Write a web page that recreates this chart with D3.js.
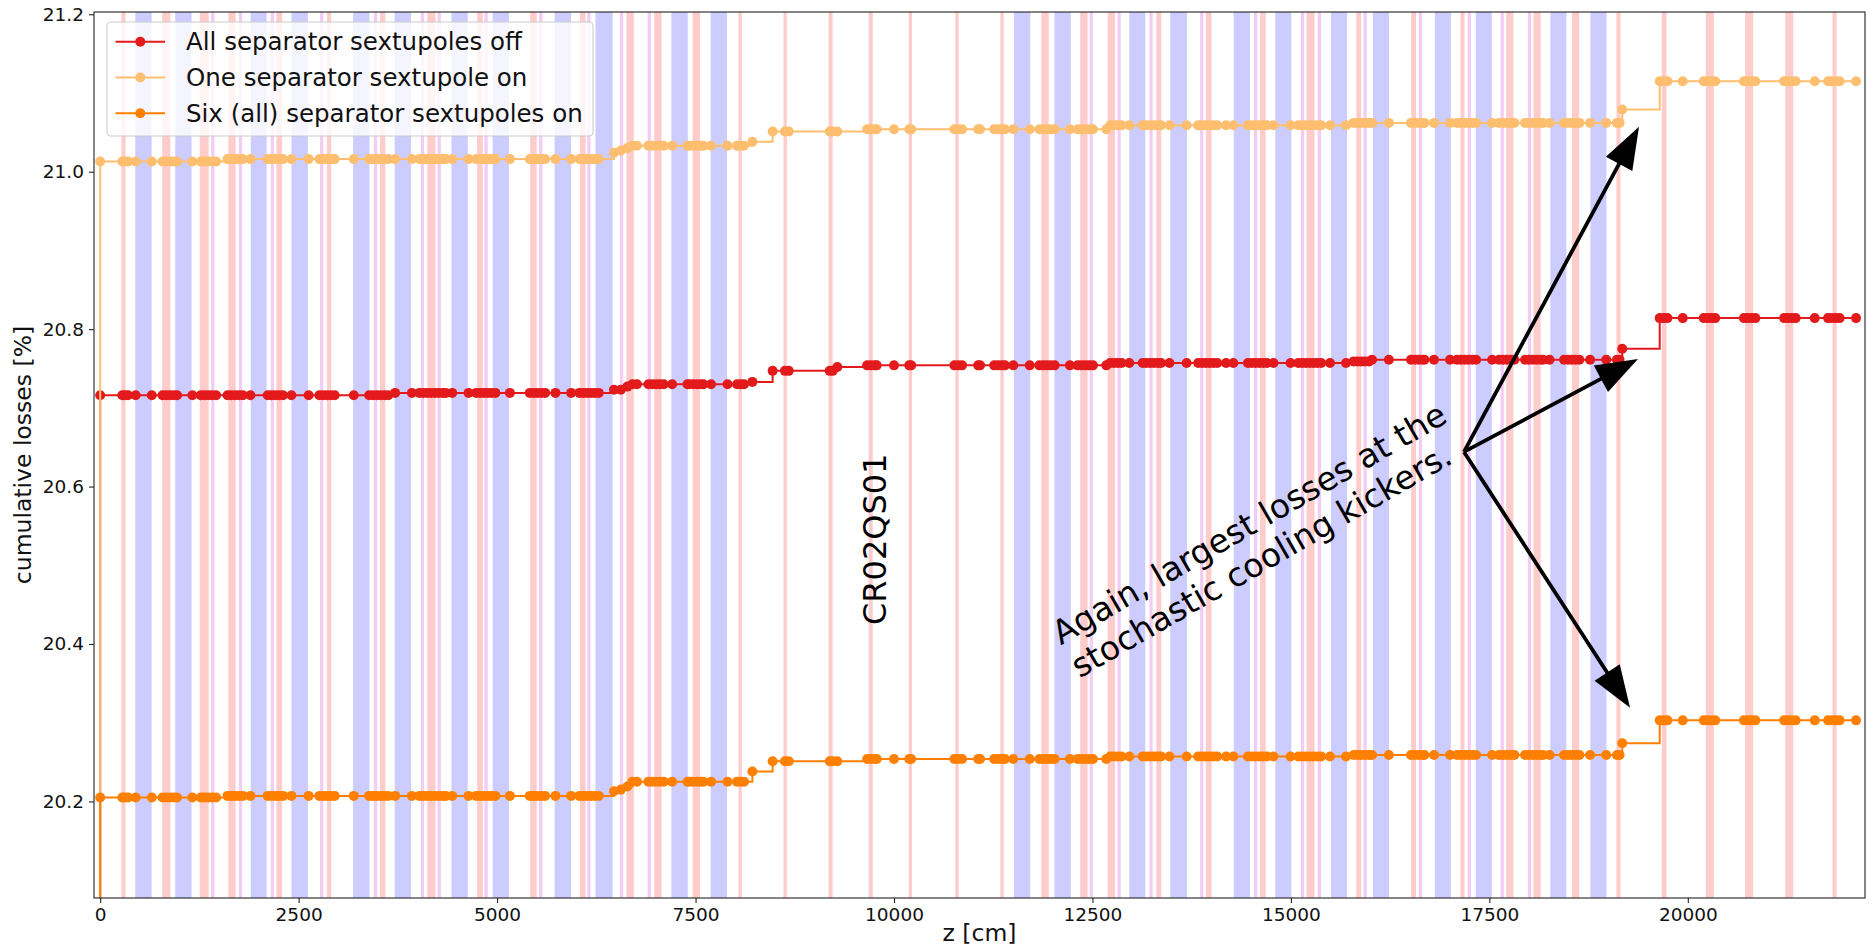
<!DOCTYPE html>
<html>
<head>
<meta charset="utf-8">
<script src="https://cdn.jsdelivr.net/npm/d3@7"></script>
<style>
  html, body { margin: 0; padding: 0; background: #ffffff; }
  svg { display: block; font-family: "DejaVu Sans", sans-serif; }
</style>
</head>
<body>
<svg id="chart" width="1870" height="947"></svg>
<script>
// Longitudinal positions (cm) of the loss samples; the first entry is the origin of the cumulative sum.
const zPos = [
  0,
  0, 279, 312, 351, 447, 650, 785, 833, 881, 929,
  968, 1161, 1267, 1315, 1363, 1411, 1460, 1604, 1652, 1701,
  1749, 1797, 1893, 2110, 2159, 2207, 2255, 2303, 2409, 2626,
  2761, 2809, 2857, 2906, 2954, 3195, 3388, 3436, 3484, 3532,
  3580, 3629,
  3715, 3927, 4024, 4072, 4120, 4168, 4217, 4265, 4313, 4352,
  4434, 4641, 4737, 4785, 4834, 4882, 4930, 4978, 5161, 5412,
  5460, 5508, 5557, 5605, 5735, 5933, 6039, 6087, 6135, 6183,
  6231, 6280,
  6472, 6559,
  6641,
  6704, 6762, 6906, 6954, 7003, 7051, 7099, 7205, 7398, 7421,
  7469, 7517, 7565, 7599, 7695, 7903, 8023, 8071, 8110,
  8216,
  8471, 8626, 8674, 9190, 9228,
  9286,
  9662, 9710, 9758, 9782, 10000, 10192, 10216, 10761, 10809, 10857,
  11060, 11084, 11262, 11310, 11358, 11397, 11503, 11710, 11831, 11879,
  11927, 11975, 12024, 12216, 12313, 12361, 12409, 12458, 12506, 12674,
  12723, 12771, 12819, 12867, 12964, 13132, 13180, 13229, 13277, 13325,
  13364, 13470, 13687, 13831, 13879, 13927, 13976, 14024, 14072, 14183,
  14275, 14458, 14506, 14554, 14603, 14651, 14699, 14781, 14995, 15092,
  15140, 15188, 15236, 15284, 15332, 15381, 15492, 15694,
  15790, 15839, 15887, 15935, 15984,
  16022, 16234, 16513, 16562, 16610, 16658, 16682, 16803, 17005, 17092,
  17140, 17188, 17236, 17285, 17333, 17535, 17622, 17670, 17718, 17767,
  17815, 17950, 17998, 18046, 18094, 18143, 18176, 18258, 18441, 18490,
  18538, 18586, 18634, 18769, 18972, 19107, 19140,
  19174,
  19646, 19695, 19743, 19936, 20201, 20249, 20297, 20345, 20707, 20755,
  20803, 20851, 21213, 21261, 21309, 21358, 21599, 21767, 21815, 21864,
  21912, 22119
];

// Cumulative losses [%] with all separator sextupoles off
const lossAllOff = [
  0,
  20.716,20.716,20.716,20.716,20.716,20.716,20.716,20.716,20.716,20.716,
  20.716,20.716,20.716,20.716,20.716,20.716,20.716,20.716,20.716,20.716,
  20.716,20.716,20.716,20.716,20.716,20.716,20.716,20.716,20.716,20.716,
  20.716,20.716,20.716,20.716,20.716,20.716,20.716,20.716,20.716,20.716,
  20.716,20.716,
  20.719,20.719,20.719,20.719,20.719,20.719,20.719,20.719,20.719,20.719,
  20.719,20.719,20.719,20.719,20.719,20.719,20.719,20.719,20.719,20.719,
  20.719,20.719,20.719,20.719,20.719,20.719,20.719,20.719,20.719,20.719,
  20.719,20.719,
  20.723,20.723,
  20.727,
  20.730,20.730,20.730,20.730,20.730,20.730,20.730,20.730,20.730,20.730,
  20.730,20.730,20.730,20.730,20.730,20.730,20.730,20.730,20.730,
  20.733,
  20.747,20.747,20.747,20.747,20.747,
  20.752,
  20.754,20.754,20.754,20.754,20.754,20.754,20.754,20.754,20.754,20.754,
  20.754,20.754,20.754,20.754,20.754,20.754,20.754,20.754,20.754,20.754,
  20.754,20.754,20.754,20.754,20.754,20.754,20.754,20.754,20.754,20.754,
  20.757,20.757,20.757,20.757,20.757,20.757,20.757,20.757,20.757,20.757,
  20.757,20.757,20.757,20.757,20.757,20.757,20.757,20.757,20.757,20.757,
  20.757,20.757,20.757,20.757,20.757,20.757,20.757,20.757,20.757,20.757,
  20.757,20.757,20.757,20.757,20.757,20.757,20.757,20.757,
  20.759,20.759,20.759,20.759,20.759,
  20.761,20.761,20.761,20.761,20.761,20.761,20.761,20.761,20.761,20.761,
  20.761,20.761,20.761,20.761,20.761,20.761,20.761,20.761,20.761,20.761,
  20.761,20.761,20.761,20.761,20.761,20.761,20.761,20.761,20.761,20.761,
  20.761,20.761,20.761,20.761,20.761,20.761,20.761,
  20.775,
  20.814,20.814,20.814,20.814,20.814,20.814,20.814,20.814,20.814,20.814,
  20.814,20.814,20.814,20.814,20.814,20.814,20.814,20.814,20.814,20.814,
  20.814,20.814
];

// Cumulative losses [%] with one separator sextupole on
const lossOneOn = [
  0,
  21.013,21.013,21.013,21.013,21.013,21.013,21.013,21.013,21.013,21.013,
  21.013,21.013,21.013,21.013,21.013,21.013,21.013,
  21.016,21.016,21.016,21.016,21.016,21.016,21.016,21.016,21.016,21.016,
  21.016,21.016,21.016,21.016,21.016,21.016,21.016,21.016,21.016,21.016,
  21.016,21.016,21.016,21.016,21.016,21.016,21.016,21.016,21.016,21.016,
  21.016,21.016,21.016,21.016,21.016,21.016,21.016,21.016,21.016,21.016,
  21.016,21.016,21.016,21.016,21.016,21.016,21.016,21.016,21.016,21.016,
  21.016,21.016,21.016,21.016,21.016,21.016,21.016,
  21.024,21.027,21.030,
  21.033,21.033,21.033,21.033,21.033,21.033,21.033,21.033,21.033,21.033,
  21.033,21.033,21.033,21.033,21.033,21.033,21.033,21.033,21.033,
  21.038,
  21.051,21.051,21.051,21.051,21.051,21.051,
  21.054,21.054,21.054,21.054,21.054,21.054,21.054,21.054,21.054,21.054,
  21.054,21.054,21.054,21.054,21.054,21.054,21.054,21.054,21.054,21.054,
  21.054,21.054,21.054,21.054,21.054,21.054,21.054,21.054,21.054,21.054,
  21.059,21.059,21.059,21.059,21.059,21.059,21.059,21.059,21.059,21.059,
  21.059,21.059,21.059,21.059,21.059,21.059,21.059,21.059,21.059,21.059,
  21.059,21.059,21.059,21.059,21.059,21.059,21.059,21.059,21.059,21.059,
  21.059,21.059,21.059,21.059,21.059,21.059,21.059,21.059,
  21.062,21.062,21.062,21.062,21.062,21.062,21.062,21.062,21.062,21.062,
  21.062,21.062,21.062,21.062,21.062,21.062,21.062,21.062,21.062,21.062,
  21.062,21.062,21.062,21.062,21.062,21.062,21.062,21.062,21.062,21.062,
  21.062,21.062,21.062,21.062,21.062,21.062,21.062,21.062,21.062,21.062,
  21.062,21.062,
  21.079,
  21.115,21.115,21.115,21.115,21.115,21.115,21.115,21.115,21.115,21.115,
  21.115,21.115,21.115,21.115,21.115,21.115,21.115,21.115,21.115,21.115,
  21.115,21.115
];

// Cumulative losses [%] with all six separator sextupoles on
const lossSixOn = [
  0,
  20.205,20.205,20.205,20.205,20.205,20.205,20.205,20.205,20.205,20.205,
  20.205,20.205,20.205,20.205,20.205,20.205,20.205,
  20.207,20.207,20.207,20.207,20.207,20.207,20.207,20.207,20.207,20.207,
  20.207,20.207,20.207,20.207,20.207,20.207,20.207,20.207,20.207,20.207,
  20.207,20.207,20.207,20.207,20.207,20.207,20.207,20.207,20.207,20.207,
  20.207,20.207,20.207,20.207,20.207,20.207,20.207,20.207,20.207,20.207,
  20.207,20.207,20.207,20.207,20.207,20.207,20.207,20.207,20.207,20.207,
  20.207,20.207,20.207,20.207,20.207,20.207,20.207,
  20.213,20.215,20.219,
  20.225,20.225,20.225,20.225,20.225,20.225,20.225,20.225,20.225,20.225,
  20.225,20.225,20.225,20.225,20.225,20.225,20.225,20.225,20.225,
  20.238,
  20.251,20.251,20.251,20.251,20.251,20.251,
  20.254,20.254,20.254,20.254,20.254,20.254,20.254,20.254,20.254,20.254,
  20.254,20.254,20.254,20.254,20.254,20.254,20.254,20.254,20.254,20.254,
  20.254,20.254,20.254,20.254,20.254,20.254,20.254,20.254,20.254,20.254,
  20.257,20.257,20.257,20.257,20.257,20.257,20.257,20.257,20.257,20.257,
  20.257,20.257,20.257,20.257,20.257,20.257,20.257,20.257,20.257,20.257,
  20.257,20.257,20.257,20.257,20.257,20.257,20.257,20.257,20.257,20.257,
  20.257,20.257,20.257,20.257,20.257,20.257,20.257,20.257,
  20.259,20.259,20.259,20.259,20.259,20.259,20.259,20.259,20.259,20.259,
  20.259,20.259,20.259,20.259,20.259,20.259,20.259,20.259,20.259,20.259,
  20.259,20.259,20.259,20.259,20.259,20.259,20.259,20.259,20.259,20.259,
  20.259,20.259,20.259,20.259,20.259,20.259,20.259,20.259,20.259,20.259,
  20.259,20.259,
  20.274,
  20.303,20.303,20.303,20.303,20.303,20.303,20.303,20.303,20.303,20.303,
  20.303,20.303,20.303,20.303,20.303,20.303,20.303,20.303,20.303,20.303,
  20.303,20.303
];

// Element extents [start, end] in cm: dipoles, quadrupoles, sextupoles
const dipoleSpans = [
  [442,648],[946,1151],[1896,2097],[2410,2616],[3186,3392],[3710,3916],
  [4425,4630],[4944,5149],[5725,5930],[6239,6455],[7196,7402],[7691,7897],
  [11511,11717],[12021,12227],[12964,13165],[13480,13691],[14279,14485],
  [14803,15005],[15505,15707],[16035,16237],[16813,17015],[17328,17530],
  [18268,18470],[18773,18975]
];
const quadSpans = [
  [267,319],[781,884],[1254,1367],[1614,1706],[2220,2292],[2857,2909],
  [3525,3592],[4121,4224],[4748,4820],[5417,5499],[6043,6115],[6629,6722],
  [6979,7072],[7464,7557],[8041,8083],[8608,8650],[9175,9227],[9681,9732],
  [10186,10227],[10773,10815],[11340,11382],[11856,11949],[12346,12439],
  [12691,12784],[13305,13366],[13928,14000],[14611,14682],[15197,15298],
  [15823,15884],[16515,16576],[17136,17187],[17712,17803],[18056,18146],
  [18540,18631],[19101,19152],[19672,19732],[20227,20328],[20722,20823],
  [21227,21328],[21823,21874]
];
const sextSpans = [
  [1398,1439],[1747,1788],[2148,2189],[2770,2811],[3448,3489],[4039,4080],
  [4250,4291],[4841,4882],[5530,5571],[6136,6177],[6547,6588],[6897,6938],
  [12464,12505],[12815,12856],[13217,13258],[13856,13897],[14535,14576],
  [15126,15167],[15338,15379],[15914,15955],[16611,16652],[17227,17268],
  [17641,17682],[17985,18025]
];

const xTicks = [0, 2500, 5000, 7500, 10000, 12500, 15000, 17500, 20000];
const yTicks = [20.2, 20.4, 20.6, 20.8, 21.0, 21.2];
const seriesNames = [
  "All separator sextupoles off",
  "One separator sextupole on",
  "Six (all) separator sextupoles on"
];
const zRange = [-78, 22232];
const lossRange = [20.0773, 21.2029];

// Annotation anchors in data units [z, loss]
const noteLines = ["Again, largest losses at the", "stochastic cooling kickers."];
const noteAt = [12100, 20.398];
const arrowTail = [17180, 20.644];
const arrowTips = [[19385, 21.057], [19372, 20.762], [19272, 20.319]];
const elementLabel = "CR02QS01";
const elementLabelAt = [9895, 20.533];

// ---------------------------------------------------------------
const svg = d3.select("#chart");
const plot = { left: 94, top: 12, right: 1865, bottom: 898 };
const x = d3.scaleLinear().domain(zRange).range([plot.left, plot.right]);
const y = d3.scaleLinear().domain(lossRange).range([plot.bottom, plot.top]);

svg.append("defs").append("clipPath").attr("id", "plotClip")
  .append("rect")
  .attr("x", plot.left).attr("y", plot.top)
  .attr("width", plot.right - plot.left).attr("height", plot.bottom - plot.top);

// Element bands
const bands = svg.append("g").attr("clip-path", "url(#plotClip)");
[[dipoleSpans, "#ccccff"], [quadSpans, "#ffcccc"], [sextSpans, "#f2ccf2"]].forEach(([spans, color]) => {
  bands.selectAll(null).data(spans).enter().append("rect")
    .attr("x", d => x(d[0]))
    .attr("width", d => x(d[1]) - x(d[0]))
    .attr("y", plot.top)
    .attr("height", plot.bottom - plot.top)
    .attr("fill", color);
});

// Series
const series = [
  { name: seriesNames[0], color: "#e31a1c", values: lossAllOff },
  { name: seriesNames[1], color: "#fdbf6f", values: lossOneOn },
  { name: seriesNames[2], color: "#ff7f00", values: lossSixOn }
];
const stepLine = d3.line().curve(d3.curveStepAfter).x(d => x(d[0])).y(d => y(d[1]));
const lines = svg.append("g").attr("clip-path", "url(#plotClip)");
series.forEach(s => {
  const pts = zPos.map((z, i) => [z, s.values[i]]);
  const g = lines.append("g");
  g.append("path").attr("d", stepLine(pts))
    .attr("fill", "none").attr("stroke", s.color).attr("stroke-width", 2);
  g.selectAll("circle").data(pts).enter().append("circle")
    .attr("cx", d => x(d[0])).attr("cy", d => y(d[1]))
    .attr("r", 5).attr("fill", s.color);
});

// Axes
const xAxis = svg.append("g").attr("transform", `translate(0,${plot.bottom})`)
  .call(d3.axisBottom(x).tickValues(xTicks).tickSize(5).tickPadding(5).tickFormat(d3.format("d")));
const yAxis = svg.append("g").attr("transform", `translate(${plot.left},0)`)
  .call(d3.axisLeft(y).tickValues(yTicks).tickSize(5).tickPadding(5).tickFormat(d3.format(".1f")));
[xAxis, yAxis].forEach(a => {
  a.select(".domain").remove();
  a.selectAll(".tick line").attr("stroke", "#222").attr("stroke-width", 1.1);
  a.selectAll(".tick text").attr("fill", "#111")
    .style("font-family", '"DejaVu Sans", sans-serif').style("font-size", "18.5px");
});

// Frame
svg.append("rect")
  .attr("x", plot.left).attr("y", plot.top)
  .attr("width", plot.right - plot.left).attr("height", plot.bottom - plot.top)
  .attr("fill", "none").attr("stroke", "#222").attr("stroke-width", 1.1);

// Axis titles
svg.append("text")
  .attr("x", (plot.left + plot.right) / 2).attr("y", 941)
  .attr("text-anchor", "middle").attr("font-size", 23.5).attr("fill", "#111")
  .text("z [cm]");
svg.append("text")
  .attr("transform", `translate(31,${(plot.top + plot.bottom) / 2}) rotate(-90)`)
  .attr("text-anchor", "middle").attr("font-size", 23.5).attr("fill", "#111")
  .text("cumulative losses [%]");

// Element label
svg.append("text")
  .attr("transform", `translate(${x(elementLabelAt[0])},${y(elementLabelAt[1])}) rotate(-90)`)
  .attr("text-anchor", "middle").attr("font-size", 32).attr("fill", "#000")
  .text(elementLabel);

// Annotation text
const note = svg.append("text")
  .attr("transform", `translate(${x(noteAt[0])},${y(noteAt[1])}) rotate(-30)`)
  .attr("font-size", 33).attr("fill", "#000");
note.selectAll("tspan").data(noteLines).enter().append("tspan")
  .attr("x", 0).attr("dy", (d, i) => i === 0 ? 0 : 38).text(d => d);

// Annotation arrows
function arrowPath(x0, y0, x1, y1) {
  const dx = x1 - x0, dy = y1 - y0, len = Math.hypot(dx, dy);
  const ux = dx / len, uy = dy / len, nx = -uy, ny = ux;
  const hl = 42, hw = 15, sw = 1.9;
  const bx = x1 - ux * hl, by = y1 - uy * hl;
  const p = [
    [x0 + nx * sw, y0 + ny * sw], [bx + nx * sw, by + ny * sw], [bx + nx * hw, by + ny * hw],
    [x1, y1],
    [bx - nx * hw, by - ny * hw], [bx - nx * sw, by - ny * sw], [x0 - nx * sw, y0 - ny * sw]
  ];
  return "M" + p.map(q => q.join(",")).join("L") + "Z";
}
svg.append("g").selectAll("path").data(arrowTips).enter().append("path")
  .attr("d", d => arrowPath(x(arrowTail[0]), y(arrowTail[1]), x(d[0]), y(d[1])))
  .attr("fill", "#000");

// Legend
const legend = svg.append("g");
legend.append("rect")
  .attr("x", 107).attr("y", 22).attr("width", 486).attr("height", 114)
  .attr("rx", 4).attr("fill", "#ffffff").attr("fill-opacity", 0.8)
  .attr("stroke", "#cccccc").attr("stroke-width", 1.1);
const rows = legend.selectAll("g.row").data(series).enter().append("g")
  .attr("class", "row").attr("transform", (d, i) => `translate(0,${41.7 + i * 35.8})`);
rows.append("line").attr("x1", 115.5).attr("x2", 165).attr("y1", 0).attr("y2", 0)
  .attr("stroke", d => d.color).attr("stroke-width", 2);
rows.append("circle").attr("cx", 140.3).attr("cy", 0).attr("r", 5).attr("fill", d => d.color);
rows.append("text").attr("x", 186).attr("y", 8.7).attr("font-size", 24.5).attr("fill", "#111")
  .text(d => d.name);
</script>
</body>
</html>
